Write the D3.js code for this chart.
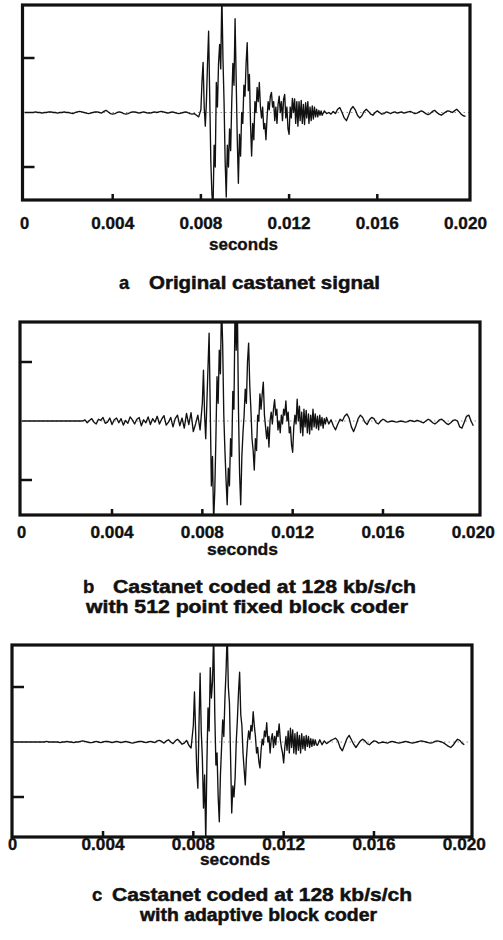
<!DOCTYPE html>
<html>
<head>
<meta charset="utf-8">
<script src="https://cdn.jsdelivr.net/npm/d3@7"></script>
<style>
  body { margin: 0; background: #fff; }
  svg text { font-family: "Liberation Sans", Arial, Helvetica, sans-serif; font-weight: bold; fill: #111; stroke: #111; stroke-width: 0.35px; }
</style>
</head>
<body>
<div id="figure"></div>
<script>
// each signal is stored in three pieces, sampled finer across the attack
const preStart = 0, preStep = 0.0001;        // 0 .. 0.0079 s
const burstStart = 0.008, burstStep = 0.00005; // 0.008 .. 0.01345 s
const tailStart = 0.0135, tailStep = 0.0001;   // 0.0135 .. 0.020 s

const xTickValues = [0.004, 0.008, 0.012, 0.016];
const xLabelValues = [0, 0.004, 0.008, 0.012, 0.016, 0.020];
const xLabelTexts = ["0", "0.004", "0.008", "0.012", "0.016", "0.020"];
const yTickValues = [-1, 1];
const axisTitle = "seconds";

const panelLetters = ["a", "b", "c"];
const panelCaptions = [
  ["Original castanet signal"],
  ["Castanet coded at 128 kb/s/ch", "with 512 point fixed block coder"],
  ["Castanet coded at 128 kb/s/ch", "with adaptive block coder"]
];

// a: original signal
const preA = [
  0, 0, 0, 0, 0, 0.01, 0, 0, -0.01, 0,
  0, 0.01, 0.01, 0, 0, -0.01, 0, 0, 0.01, 0,
  0, -0.01, -0.02, 0, 0.01, 0.02, 0.01, 0, -0.01, -0.02,
  -0.01, 0, 0.01, 0.01, 0, -0.01, 0.02, 0.04, 0.01, -0.02,
  -0.03, -0.02, 0, 0.01, 0, -0.02, -0.03, -0.02, 0, 0.01,
  0.01, 0, -0.01, 0, 0.01, 0, -0.01, -0.01, 0, 0.01,
  0, 0.01, 0.02, 0.01, 0, -0.01, 0, 0.01, 0, -0.01,
  -0.02, -0.01, 0, 0.01, 0, -0.02, -0.03, -0.02, -0.05, -0.08
];
const burstA = [
  0.05, 0.57, 0.92, 0.1, -0.25, 0.2, 0.9, 1.49, 0.3, -0.9,
  -1.5, -1.75, -0.6, -1.0, 0.55, 0.1, 0.9, 1.25, 0.8, 2.2,
  1.0, 0.2, -0.9, -1.55, -0.6, -1.0, -0.3, -0.7, 0.2, 0.9,
  0.5, 1.72, 0.6, -0.5, -1.3, -0.4, -0.8, 0, -0.2, 0.5,
  0.3, 0.9, 1.28, 0.4, 0.7, -0.2, -0.8, -0.2, -0.5, 0.2,
  0, 0.46, 0.2, 0.55, 0.1, -0.1, 0.1, -0.3, -0.2, -0.5,
  -0.1, 0.2, 0.05, 0.3, 0.37, 0.1, 0.2, -0.15, 0.1, -0.2,
  0.15, 0.3, 0, 0.2, -0.15, 0.25, 0.33, -0.1, 0.1, -0.3,
  -0.4, 0.1, -0.1, 0.26, 0, 0.25, -0.2, 0.2, -0.25, 0.2,
  -0.15, 0.22, -0.2, 0.15, -0.22, 0.18, -0.1, 0.2, -0.2, 0.1,
  -0.15, 0.12, -0.12, 0.1, -0.08, 0.06, -0.08, 0.04, -0.05, 0.03
];
const tailA = [
  -0.05, 0.03, -0.02, 0, -0.03, 0.02, -0.02, 0.06, 0.09, 0,
  -0.1, -0.15, -0.05, 0.06, 0.11, 0.05, -0.05, -0.1, -0.06, 0.02,
  0.06, 0.02, -0.03, -0.05, 0, 0.03, 0, -0.03, -0.02, 0.01,
  0, -0.02, 0, 0.01, -0.01, 0, 0.01, -0.01, 0, 0.01,
  0.02, 0, -0.02, -0.01, 0.01, 0.03, 0.01, -0.02, -0.04, -0.02,
  0.02, 0.04, 0, -0.03, -0.05, -0.02, 0.01, 0.03, 0.02, 0,
  0.03, 0.06, 0.02, -0.03, -0.06, -0.07
];

// b: 512 point fixed block coder (pre-echo noise before the attack)
const preB = [
  0, 0, 0, 0, 0, 0, 0, 0, 0, 0,
  0, 0, 0, 0, 0, 0, 0, 0, 0, 0,
  0, 0, 0, 0, 0, 0, 0, 0, 0.02, -0.03,
  0.01, 0.04, -0.02, -0.05, 0.03, 0.01, 0.06, -0.04, -0.02, 0.05,
  -0.06, 0.02, 0.05, -0.03, 0.04, -0.07, 0.01, -0.04, 0.07, 0.02,
  -0.05, 0.03, 0.06, -0.08, 0.02, -0.03, 0.07, -0.06, 0.04, -0.02,
  0.08, -0.05, 0.03, 0.09, -0.07, -0.02, 0.06, -0.1, 0.04, 0.1,
  -0.08, 0.05, -0.12, 0.13, -0.06, 0.14, -0.18, -0.05, 0.1, -0.15
];
const burstB = [
  0.3, 0.86, 0.1, -0.3, 0.3, 0.9, 1.49, 0.2, -1.1, -0.6,
  -1.7, -1.2, -0.3, 0.75, 0.3, 1.2, 0.8, 2.0, 1.3, 0.1,
  -0.5, -1.0, -1.42, -0.8, -1.1, -0.3, -0.6, 0.5, 0.2, 2.0,
  1.2, 2.0, 0.2, -0.9, -1.42, -0.6, -0.2, 0.1, 0.54, 0.3,
  1.0, 1.32, 0.6, 0.2, -0.3, -0.5, -0.83, -0.3, -0.5, 0.1,
  0, 0.46, 0.2, 0.45, 0.66, 0.1, -0.1, -0.3, -0.1, -0.44,
  0, 0.15, -0.05, 0.2, 0.36, 0.1, 0.2, -0.15, 0, -0.2,
  0.1, -0.05, 0.2, 0.1, 0.34, 0, 0.15, -0.2, -0.1, -0.4,
  -0.53, -0.1, 0.1, -0.05, 0.37, 0, 0.25, -0.2, 0.15, -0.25,
  0.2, -0.1, 0.18, -0.2, 0.12, -0.22, 0.1, -0.15, 0.2, -0.1,
  0.12, -0.12, 0.08, -0.15, 0.1, -0.08, 0.06, -0.12, 0.04, -0.05
];
const tailB = [
  0.06, -0.05, 0.02, -0.08, -0.15, -0.05, 0.03, 0, 0.08, 0.12,
  0.05, -0.1, -0.18, -0.08, 0.04, 0.1, 0.06, -0.02, -0.06, 0.02,
  0.06, 0.04, -0.03, -0.05, 0, 0.03, 0.01, -0.02, -0.01, 0,
  -0.01, -0.02, -0.01, 0, -0.01, -0.02, -0.01, 0.01, 0, -0.01,
  0.01, 0, -0.02, -0.03, 0, 0.03, 0.01, -0.03, -0.05, -0.02,
  0.02, 0.03, 0, -0.04, -0.06, -0.03, 0.01, 0.02, 0, -0.1,
  -0.12, -0.02, 0.08, 0.1, 0, -0.08
];

// c: adaptive block coder
const preC = [
  0, 0, 0, 0, 0, 0, 0, 0, 0, 0,
  0, 0, 0, 0, 0, 0.01, 0, 0, 0, 0,
  0, -0.01, 0, 0, 0.01, 0, 0, -0.01, 0, 0,
  0.01, 0.02, 0.01, 0, -0.01, -0.01, 0, 0.01, 0, -0.01,
  0, 0.01, 0.01, 0, -0.01, 0, 0.01, 0, -0.01, 0,
  0.01, 0, -0.01, -0.02, -0.01, 0, 0.01, 0.01, 0, -0.01,
  0, 0.01, 0, -0.01, 0.02, 0.03, 0.01, -0.02, 0.02, 0.04,
  0, -0.03, 0.02, 0.05, 0.01, -0.04, -0.02, 0.03, -0.06, -0.11
];
const burstC = [
  0.3, 0.91, 0.2, -0.5, -0.84, 0.3, 1.25, 0.2, -0.3, -1.2,
  -0.6, -1.8, -0.4, 0.62, 0.2, 1.35, 0.8, 1.1, 2.0, 0.5,
  -0.42, -0.2, -1.0, -1.45, -0.6, -0.1, 0.4, 0.1, 0.8, 1.3,
  2.0, 1.0, 0.7, -0.3, -1.29, -0.8, -1.0, -0.65, 0, 0.4,
  0.9, 1.27, 0.5, 0.3, -0.2, -0.5, -0.78, -0.3, 0, 0.2,
  0.05, 0.3, 0.2, 0.55, 0.3, 0.1, -0.2, -0.1, -0.35, -0.47,
  -0.15, 0.05, -0.05, 0.2, 0.1, 0.35, 0, 0.1, -0.2, 0.05,
  0.15, -0.1, 0.1, -0.05, 0.2, 0.1, 0.33, 0.05, -0.1, -0.2,
  -0.38, -0.1, 0.1, -0.15, 0.2, -0.2, 0.25, -0.1, 0.22, -0.2,
  0.15, -0.22, 0.18, -0.15, 0.12, -0.2, 0.15, -0.12, 0.1, -0.15,
  0.12, -0.08, 0.1, -0.1, 0.06, -0.08, 0.05, -0.06, 0.04, -0.05
];
const tailC = [
  -0.06, 0.04, -0.05, 0.02, -0.03, 0, 0.03, 0.05, 0.07, 0.02,
  -0.1, -0.16, -0.05, 0.06, 0.12, 0.04, -0.04, -0.1, -0.04, 0.02,
  0.05, 0.02, -0.03, -0.05, -0.01, 0.02, 0.01, -0.02, -0.01, 0,
  -0.01, -0.02, 0, 0.01, 0, -0.01, -0.02, -0.01, 0, 0.01,
  0, -0.01, -0.02, -0.01, 0, 0.01, 0.02, 0.01, 0, -0.01,
  -0.02, -0.01, 0.01, 0.02, 0.01, 0, -0.02, -0.05, -0.08, -0.1,
  -0.06, 0, 0.05, 0.03, -0.02, -0.05
];

const signals = [
  [preA, burstA, tailA],
  [preB, burstB, tailB],
  [preC, burstC, tailC]
];

// where each panel sits on the page (the scanned figure is not quite aligned)
// caption / label widths are the widths measured on the scan
const layouts = [
  { frame: [22.5, 5, 470, 200], xRange: [24.5, 465.5], yRange: [167, 58],
    labelY: 228.5, titleX: 209, titleY: 249.5, titleW: 69,
    letterX: 119, captionX: [149], captionW: [231], captionY: [289] },
  { frame: [20, 322, 480, 515], xRange: [21.7, 473.3], yRange: [480, 362],
    labelY: 537.5, titleX: 207, titleY: 555, titleW: 71,
    letterX: 83, captionX: [113, 86], captionW: [303, 322], captionY: [592.5, 612.8] },
  { frame: [12, 645, 472, 837], xRange: [12.7, 464.3], yRange: [797, 687],
    labelY: 849.5, titleX: 200, titleY: 865, titleW: 70,
    letterX: 92, captionX: [112, 140], captionW: [300, 237], captionY: [900.5, 920.8] }
];

const svg = d3.select("#figure").append("svg")
  .attr("width", 503)
  .attr("height", 940);

class WavePanel {
  constructor(_pieces, _layout, _index) {
    this.layout = _layout;
    this.index = _index;

    // turn the three sampled pieces into [time, value] points
    const [pre, burst, tail] = _pieces;
    this.data = [].concat(
      pre.map((v, i) => [preStart + i * preStep, v]),
      burst.map((v, i) => [burstStart + i * burstStep, v]),
      tail.map((v, i) => [tailStart + i * tailStep, v])
    );

    this.initVis();
  }

  initVis() {
    let vis = this;
    const [x0, y0, x1, y1] = vis.layout.frame;

    vis.xScale = d3.scaleLinear().domain([0, 0.02]).range(vis.layout.xRange);
    vis.yScale = d3.scaleLinear().domain([-1, 1]).range(vis.layout.yRange);

    vis.g = svg.append("g").attr("class", "panel-" + panelLetters[vis.index]);

    vis.g.append("clipPath")
      .attr("id", "clip-" + vis.index)
      .append("rect")
      .attr("x", x0).attr("y", y0)
      .attr("width", x1 - x0).attr("height", y1 - y0);

    vis.plot = vis.g.append("g").attr("clip-path", `url(#clip-${vis.index})`);

    vis.renderVis();
  }

  renderVis() {
    let vis = this;
    const [x0, y0, x1, y1] = vis.layout.frame;

    // faint dotted zero reference
    vis.plot.append("line")
      .attr("x1", x0).attr("x2", x1)
      .attr("y1", vis.yScale(0)).attr("y2", vis.yScale(0))
      .attr("stroke", "#444")
      .attr("stroke-width", 0.6)
      .attr("stroke-dasharray", "1.5,3");

    const line = d3.line()
      .x(d => vis.xScale(d[0]))
      .y(d => vis.yScale(d[1]));

    vis.plot.append("path")
      .datum(vis.data)
      .attr("d", line)
      .attr("fill", "none")
      .attr("stroke", "#111")
      .attr("stroke-width", 1.35)
      .attr("stroke-linejoin", "round");

    // inner ticks: up from the bottom edge, right from the left edge
    vis.g.selectAll(".xtick")
      .data(xTickValues)
      .join("line")
      .attr("class", "xtick")
      .attr("x1", d => vis.xScale(d)).attr("x2", d => vis.xScale(d))
      .attr("y1", y1).attr("y2", y1 - 6)
      .attr("stroke", "#111")
      .attr("stroke-width", 2.5);

    vis.g.selectAll(".ytick")
      .data(yTickValues)
      .join("line")
      .attr("class", "ytick")
      .attr("x1", x0).attr("x2", x0 + 12)
      .attr("y1", d => vis.yScale(d)).attr("y2", d => vis.yScale(d))
      .attr("stroke", "#111")
      .attr("stroke-width", 2.5);

    vis.g.append("rect")
      .attr("x", x0).attr("y", y0)
      .attr("width", x1 - x0).attr("height", y1 - y0)
      .attr("fill", "none")
      .attr("stroke", "#111")
      .attr("stroke-width", 3.2);

    vis.g.selectAll(".xlabel")
      .data(xLabelValues)
      .join("text")
      .attr("class", "xlabel")
      .attr("x", d => vis.xScale(d))
      .attr("y", vis.layout.labelY)
      .attr("text-anchor", "middle")
      .style("font-size", "16.5px")
      .each(function(d, i) {
        if (xLabelTexts[i].length > 1) {
          d3.select(this).attr("textLength", 43).attr("lengthAdjust", "spacingAndGlyphs");
        }
      })
      .text((d, i) => xLabelTexts[i]);

    vis.g.append("text")
      .attr("x", vis.layout.titleX)
      .attr("y", vis.layout.titleY)
      .attr("textLength", vis.layout.titleW)
      .attr("lengthAdjust", "spacingAndGlyphs")
      .style("font-size", "16.5px")
      .text(axisTitle);

    vis.g.append("text")
      .attr("x", vis.layout.letterX)
      .attr("y", vis.layout.captionY[0])
      .style("font-size", "18.5px")
      .text(panelLetters[vis.index]);

    vis.g.selectAll(".caption")
      .data(panelCaptions[vis.index])
      .join("text")
      .attr("class", "caption")
      .attr("x", (d, i) => vis.layout.captionX[i])
      .attr("y", (d, i) => vis.layout.captionY[i])
      .attr("textLength", (d, i) => vis.layout.captionW[i])
      .attr("lengthAdjust", "spacingAndGlyphs")
      .style("font-size", "18px")
      .style("stroke-width", "0.5px")
      .text(d => d);
  }
}

signals.forEach((s, i) => new WavePanel(s, layouts[i], i));
</script>
</body>
</html>
